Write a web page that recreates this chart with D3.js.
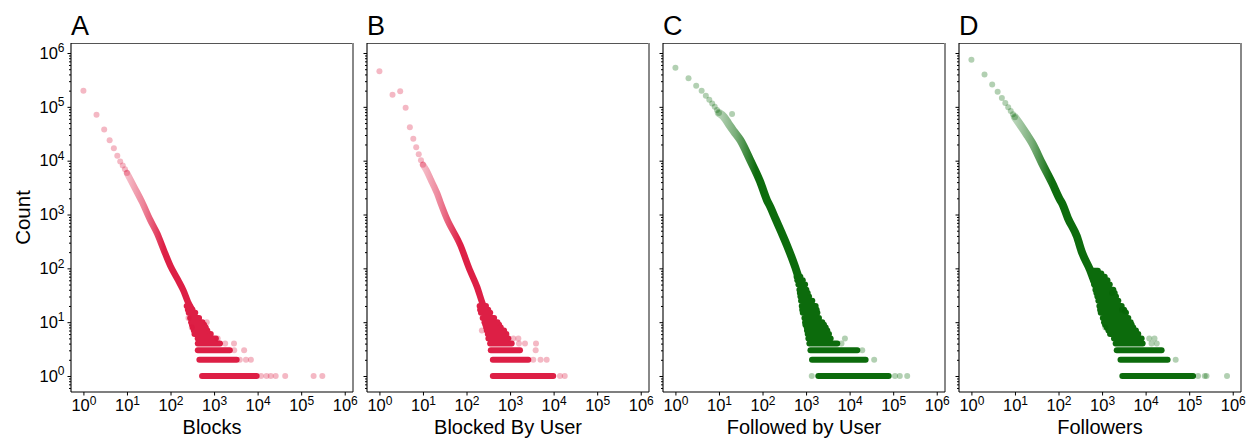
<!DOCTYPE html>
<html><head><meta charset="utf-8">
<script src="https://cdn.jsdelivr.net/npm/d3@7"></script>
<style>
body{margin:0;background:#fff;}
svg{display:block;font-family:"Liberation Sans",Arial,Helvetica,sans-serif;}
</style>
</head><body><svg id="c" width="1252" height="438"></svg>
<script>
// ---------- labels ----------
const panelLetters = ["A","B","C","D"];
const xTitles = ["Blocks","Blocked By User","Followed by User","Followers"];
const yTitle = "Count";
const xTickExps = [0,1,2,3,4,5,6];
const yTickExps = [0,1,2,3,4,5,6];
const palette = ["#dc143c","#dc143c","#006400","#006400"];

// ---------- data ----------
// isolated leading points [degree, count]
const headA = [[1,200000],[2,71000],[3,38000],[4,24000],[5,17000],[6,12400],[7,9700],[8,8100],[9,6900],[10,5900]];
const headB = [[1,460000],[2,168000],[3,194000],[4,96000],[5,42000],[6,25600],[7,17700],[8,13100],[9,10200],[10,8400]];
const headC = [[1,530000],[2,340000],[3,247000],[4,200000],[5,161000],[6,136000],[7,116000],[8,100000],[9,87000],[10,77000]];
const headD = [[1,750000],[2,400000],[3,260000],[4,190000],[5,146000],[6,118000],[7,98000],[8,84000],[9,73000],[10,64000]];

// dense main trend [degree, count]
const trendA = [[10,5900],[15,3150],[22,1730],[34,800],[49,450],[70,220],[100,110],[150,60],[200,38],[250,24],[300,18]];
const trendB = [[10,8400],[12,6600],[15,4500],[18,3300],[21,2500],[25,1700],[35,850],[72,271],[121,90],[173,46],[245,20],[300,14]];
const trendC = [[10,77000],[13,65000],[15,55000],[18,44000],[22,35000],[31,24000],[52,10300],[88,4100],[126,1860],[150,1400],[200,820],[277,450],[361,272],[560,107],[700,62],[870,40]];
const trendD = [[10,64000],[12,52000],[15,40000],[19,30000],[25,21000],[42,8900],[72,3800],[109,1860],[121,1610],[165,850],[263,395],[348,195],[531,93],[645,61],[800,40]];

// dense runs of points at one count [count, first degree, last degree]
const bandsA = [[1,530,9500],[2,460,3300],[3,423,2300],[4,423,1370],[5,420,1100],[6,355,840],[7,343,700],[8,325,645],[9,310,590],[10,297,540],[12,282,453],[15,262,370],[17,250,320],[20,235,275]];
const bandsB = [[1,402,9800],[2,402,2620],[3,361,1690],[4,348,1090],[5,318,915],[6,308,822],[7,292,728],[8,282,612],[9,270,560],[10,258,512],[12,235,430],[15,215,350],[17,205,315],[20,200,280]];
const bandsC = [[1,1910,79000],[2,1370,23300],[3,1260,15000],[4,1190,5200],[5,1130,3670],[6,1090,3360],[7,1050,3070],[8,1035,2820],[9,965,2580],[10,950,2360],[12,915,1980],[15,840,1820],[17,815,1750],[20,795,1660],[25,767,1390],[30,741,1170],[35,720,1090],[40,703,1016],[50,667,950],[60,630,840],[70,605,740]];
const bandsD = [[1,2920,123000],[2,2650,32000],[3,2170,23300],[4,2050,8550],[5,1880,8100],[6,1525,6780],[7,1400,6000],[8,1280,5200],[9,1170,4790],[10,1110,4540],[12,1040,4000],[15,933,3540],[17,900,3200],[20,867,2820],[25,822,2360],[30,780,2090],[35,740,1950],[40,703,1815],[50,656,1500],[60,625,1330],[70,600,1150],[80,575,960],[90,555,800]];

// scattered single points [degree, count]
const strayA = [[258,12],[308,8],[680,10],[1210,5],[1800,4],[2870,4],[2900,3],[4900,3],[3900,2],[5400,2],[7000,2],[12000,1],[16000,1],[20000,1],[26000,1],[43000,1],[193000,1],[306000,1]];
const strayB = [[225,7],[1190,5],[1550,5],[1600,4],[2200,4],[3940,4],[3870,3],[3410,2],[5000,2],[6920,2],[14000,1],[18000,1]];
const strayC = [[20,74000],[1350,1],[110000,1],[142000,1],[210000,1],[36600,2],[19500,3],[6500,4],[7800,5]];
const strayD = [[1690,35],[3360,16],[2870,17],[1190,8],[12100,5],[16000,5],[13700,4],[18000,4],[49000,2],[160000,1],[228000,1],[250000,1],[740000,1]];

const panels = [
  {head:headA, trend:trendA, bands:bandsA, stray:strayA},
  {head:headB, trend:trendB, bands:bandsB, stray:strayB},
  {head:headC, trend:trendC, bands:bandsC, stray:strayC},
  {head:headD, trend:trendD, bands:bandsD, stray:strayD}
];

// ---------- layout ----------
const left0 = 71, pw = 282, gap = 14, mTop = 43, ph = 349;
const svg = d3.select("#c");
const defs = svg.append("defs");

const x = d3.scaleLog().domain([Math.pow(10,-0.285), Math.pow(10,6.19)]).range([0, pw]);
const y = d3.scaleLog().domain([Math.pow(10,-0.297), Math.pow(10,6.186)]).range([ph, 0]);

const xMajor = xTickExps.map(e => Math.pow(10,e));
const yMajor = yTickExps.map(e => Math.pow(10,e));
const yMinor = [];
for (let e = -1; e <= 6; e++) for (let m = 2; m <= 9; m++) {
  const v = m * Math.pow(10,e);
  if (v >= y.domain()[0] && v <= y.domain()[1]) yMinor.push(v);
}

function supLabel(sel) {
  sel.each(function(d){
    const t = d3.select(this);
    const e = Math.round(Math.log10(d));
    t.text(null);
    t.append("tspan").text("10");
    t.append("tspan").attr("dy", -6.5).attr("font-size", "12px").text(e);
  });
}

panels.forEach((p, i) => {
  const gx = left0 + i * (pw + gap);
  const g = svg.append("g").attr("transform", `translate(${gx},${mTop})`);
  const col = palette[i];

  const gid = "grad" + i;
  const grad = defs.append("linearGradient").attr("id", gid)
    .attr("gradientUnits", "userSpaceOnUse")
    .attr("x1", x(10)).attr("x2", x(70)).attr("y1", 0).attr("y2", 0);
  grad.append("stop").attr("offset", 0).attr("stop-color", col).attr("stop-opacity", 0.3);
  grad.append("stop").attr("offset", 0.45).attr("stop-color", col).attr("stop-opacity", 0.55);
  grad.append("stop").attr("offset", 1).attr("stop-color", col).attr("stop-opacity", 1);

  const dense = g.append("g").attr("opacity", 0.95);
  dense.selectAll("line.band").data(p.bands).join("line").attr("class","band")
    .attr("x1", d => x(d[1])).attr("x2", d => x(d[2]))
    .attr("y1", d => y(d[0])).attr("y2", d => y(d[0]))
    .attr("stroke", col).attr("stroke-width", 6).attr("stroke-linecap", "round");
  dense.append("path").datum(p.trend)
    .attr("d", d3.line().x(d => x(d[0])).y(d => y(d[1])).curve(d3.curveMonotoneX))
    .attr("fill", "none").attr("stroke", `url(#${gid})`)
    .attr("stroke-width", i < 2 ? 6.5 : 8)
    .attr("stroke-linecap", "round").attr("stroke-linejoin", "round");

  g.selectAll("circle.pt").data(p.head.concat(p.stray)).join("circle").attr("class","pt")
    .attr("cx", d => x(d[0])).attr("cy", d => y(d[1])).attr("r", 3)
    .attr("fill", col).attr("fill-opacity", 0.3);

  // spines
  g.append("line").attr("x1", 0).attr("x2", pw).attr("y1", 0.5).attr("y2", 0.5).attr("stroke", "#555").attr("stroke-width", 1);
  g.append("line").attr("x1", pw).attr("x2", pw).attr("y1", 0).attr("y2", ph).attr("stroke", "#888").attr("stroke-width", 2);
  g.append("line").attr("x1", 0).attr("x2", 0).attr("y1", 0).attr("y2", ph).attr("stroke", "#000").attr("stroke-width", 1.1);
  g.append("line").attr("x1", 0).attr("x2", pw).attr("y1", ph).attr("y2", ph).attr("stroke", "#000").attr("stroke-width", 1.1);

  // x axis
  const xa = g.append("g").attr("transform", `translate(0,${ph})`)
    .call(d3.axisBottom(x).tickValues(xMajor).tickSize(3.5).tickPadding(4));
  xa.select(".domain").remove();
  xa.selectAll(".tick line").attr("stroke", "#000");
  xa.selectAll(".tick text").attr("font-size", "16.5px").attr("fill", "#000")
    .attr("font-family", '"Liberation Sans",Arial,sans-serif').call(supLabel);

  // y axis minor + major
  const ym = g.append("g").call(d3.axisLeft(y).tickValues(yMinor).tickSize(2).tickFormat(""));
  ym.select(".domain").remove();
  ym.selectAll(".tick line").attr("stroke", "#000");
  const ya = g.append("g").call(d3.axisLeft(y).tickValues(yMajor).tickSize(3.5).tickPadding(3));
  ya.select(".domain").remove();
  ya.selectAll(".tick line").attr("stroke", "#000");
  if (i === 0) {
    ya.selectAll(".tick text").attr("font-size", "16.5px").attr("fill", "#000")
      .attr("font-family", '"Liberation Sans",Arial,sans-serif').call(supLabel);
  } else {
    ya.selectAll(".tick text").remove();
  }

  // titles
  g.append("text").attr("x", 0).attr("y", -8).attr("font-size", "27px").attr("fill", "#000")
    .text(panelLetters[i]);
  g.append("text").attr("x", pw / 2).attr("y", ph + 42).attr("text-anchor", "middle")
    .attr("font-size", "20px").attr("fill", "#000").text(xTitles[i]);
});

svg.append("text").attr("transform", `translate(30,${mTop + ph / 2}) rotate(-90)`)
  .attr("text-anchor", "middle").attr("font-size", "20.5px").attr("fill", "#000").text(yTitle);
</script>
</body></html>
